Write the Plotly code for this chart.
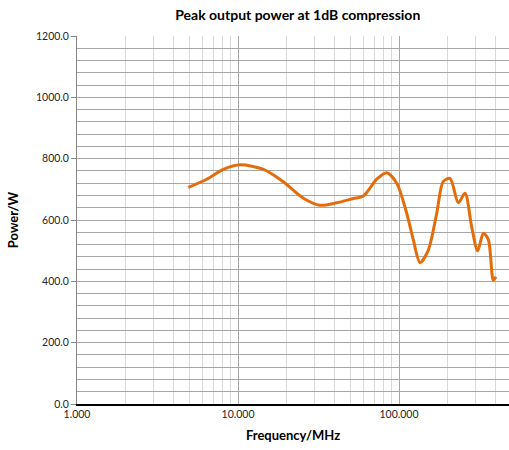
import plotly.graph_objects as go

freq_mhz = [4.91, 6.39, 8.11, 10.3, 14.4, 19.1, 25.5, 32.3, 41, 52, 60, 72.7, 83.9, 96.8,
            111.6, 122.7, 135, 152, 171.5, 188, 207.5, 233.5, 257, 282.6, 308, 334, 359, 385, 400]
power_w = [706, 733, 765, 780, 765, 725, 671, 648, 656, 670, 678, 733, 754, 720,
           622, 535, 461, 502, 622, 725, 736, 656, 687, 578, 499, 557, 535, 404, 415]

x_major_ticks = [1, 10, 100]
x_major_labels = ["1.000", "10.000", "100.000"]
x_minor_ticks = [2, 3, 4, 5, 6, 7, 8, 9, 20, 30, 40, 50, 60, 70, 80, 90, 200, 300, 400]

font_family = "Lato, Liberation Sans, Arial, sans-serif"

fig = go.Figure()
fig.add_trace(go.Scatter(
    x=freq_mhz, y=power_w, mode="lines",
    line=dict(color="#E46C0A", width=3, shape="spline", smoothing=0.8),
    showlegend=False, hoverinfo="x+y"))

fig.update_layout(
    width=509, height=450,
    margin=dict(l=77, r=0, t=36, b=46, autoexpand=False),
    paper_bgcolor="white", plot_bgcolor="white",
    font=dict(family=font_family, size=10.5, color="#262626"),
    title=dict(text="<b>Peak output power at 1dB compression</b>",
               x=0.585, xanchor="center", y=0.966, yanchor="middle",
               font=dict(size=14, color="#000000"), automargin=False),
)

fig.update_xaxes(
    type="log", range=[0, 2.683], automargin=False,
    tickvals=x_major_ticks, ticktext=x_major_labels,
    showgrid=True, gridcolor="#A6A6A6", gridwidth=1,
    showline=True, linecolor="#000000", linewidth=1.5,
    ticks="", zeroline=False,
    minor=dict(tickvals=x_minor_ticks, showgrid=True, gridcolor="#D9D9D9", gridwidth=1, ticks=""),
    title=dict(text="<b>Frequency/MHz</b>", font=dict(size=13, color="#000000"), standoff=12),
    tickfont=dict(size=10.5, color="#262626"),
)

fig.update_yaxes(
    range=[0, 1200], dtick=200, tick0=0, tickformat=".1f", automargin=False,
    showgrid=True, gridcolor="#A6A6A6", gridwidth=1,
    showline=True, linecolor="#868686", linewidth=1,
    ticks="outside", ticklen=5, tickcolor="#868686",
    zeroline=False,
    minor=dict(dtick=40, showgrid=True, gridcolor="#A6A6A6", gridwidth=1, ticks=""),
    title=dict(text="<b>Power/W</b>", font=dict(size=13, color="#000000"), standoff=14),
    tickfont=dict(size=10.5, color="#262626"),
)

fig.write_html("out.html", config={"displayModeBar": False},
               post_script="document.body.style.margin='0';document.body.style.overflow='hidden';")
